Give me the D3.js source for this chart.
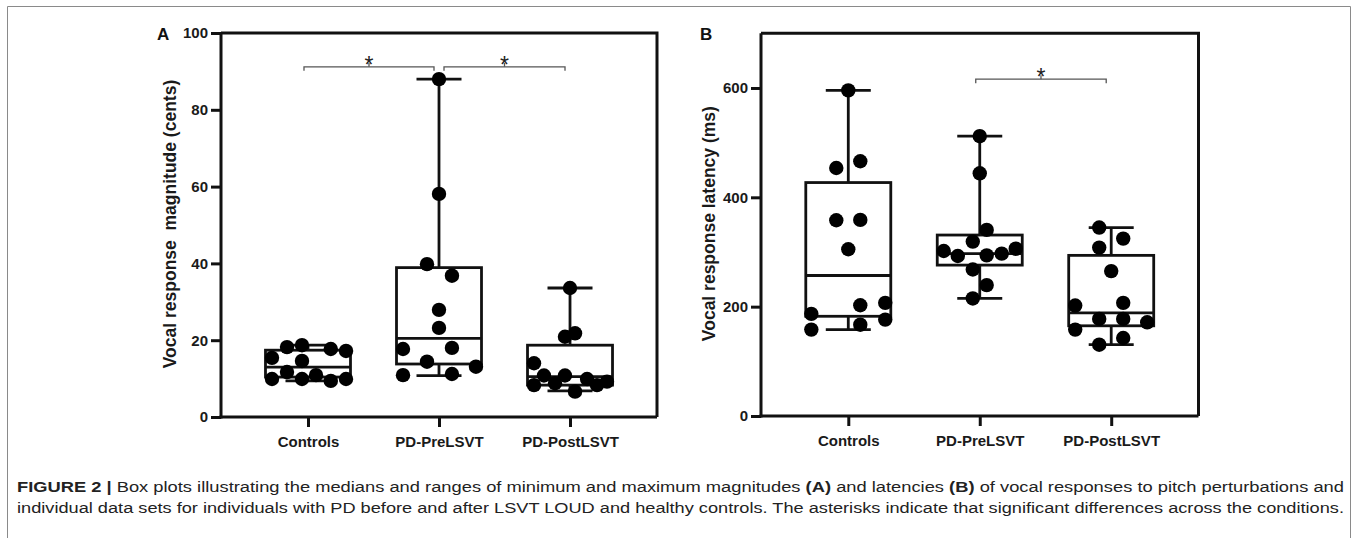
<!DOCTYPE html>
<html><head><meta charset="utf-8">
<script src="https://cdn.jsdelivr.net/npm/d3@7/dist/d3.min.js"></script>
<style>
body{margin:0;background:#fff}
svg{display:block}
text{font-family:"Liberation Sans",Arial,Helvetica,sans-serif}
</style>
</head><body>
<svg id="c" width="1358" height="538"></svg>
<script>
// ---------------- DATA ----------------
const categories = ["Controls", "PD-PreLSVT", "PD-PostLSVT"];

// Panel A: vocal response magnitude (cents)
const magTicks = [0, 20, 40, 60, 80, 100];
const magControls = [15.4, 9.9, 18.2, 11.7, 18.7, 14.6, 9.9, 10.9, 17.7, 9.4, 17.2, 9.9];
const magPre      = [88.0, 58.1, 39.8, 36.8, 27.9, 23.2, 17.7, 18.0, 14.4, 13.1, 10.9, 11.2];
const magPost     = [33.6, 21.8, 20.9, 14.0, 8.3, 10.8, 8.8, 10.8, 6.6, 9.9, 8.3, 9.2];
// horizontal scatter slot of each dot (in dot-column units)
const magControlsSlot = [-3, -3, -1.75, -1.75, -0.5, -0.5, -0.5, 0.67, 1.9, 1.9, 3.17, 3.17];
const magPreSlot      = [0, 0, -1, 1.08, 0, 0, -3, 1.08, -1, 3.08, -3, 1.08];
const magPostSlot     = [0, 0.42, -0.42, -3, -3, -2.17, -1.25, -0.42, 0.42, 1.42, 2.25, 3.08];
// box statistics (min, q1, median, q3, max) per category
const magMin    = [9.4, 10.8, 6.8];
const magQ1     = [10.4, 13.8, 8.3];
const magMedian = [13.0, 20.5, 10.5];
const magQ3     = [17.4, 38.9, 18.7];
const magMax    = [18.7, 88.0, 33.6];
// significance brackets: [from category, to category, level]
const magSig = [[0, 1, 91.2], [1, 2, 91.2]];

// Panel B: vocal response latency (ms)
const latTicks = [0, 200, 400, 600];
const latControls = [595.6, 453.6, 466, 358, 358.7, 305, 186.8, 158, 202.6, 167, 207, 176.3];
const latPre      = [511.8, 443.9, 340.4, 319, 301.8, 292.6, 293.8, 297, 306, 268, 239.4, 215];
const latPost     = [344.7, 324.5, 308, 265, 202, 207, 177.6, 177.6, 171.4, 158, 142.7, 130.4];
const latControlsSlot = [0, -1, 1, -1, 1, 0, -3.08, -3.08, 1, 1, 3.08, 3.08];
const latPreSlot      = [0, 0, 0.58, -0.58, -3, -1.83, 0.58, 1.83, 3, -0.58, 0.58, -0.58];
const latPostSlot     = [-1, 1, -1, 0, -3, 1, -1, 1, 3, -3, 1, -1];
const latMin    = [158, 215, 130.4];
const latQ1     = [182.4, 276, 165];
const latMedian = [257, 297, 188.6];
const latQ3     = [427, 331, 293.8];
const latMax    = [595.6, 511.8, 344.7];
const latSig = [[1, 2, 616]];

const captionLine1 = [
  {t: "FIGURE 2 | ", b: true},
  {t: "Box plots illustrating the medians and ranges of minimum and maximum magnitudes ", b: false},
  {t: "(A)", b: true},
  {t: " and latencies ", b: false},
  {t: "(B)", b: true},
  {t: " of vocal responses to pitch perturbations and", b: false}
];
const captionLine2 = [
  {t: "individual data sets for individuals with PD before and after LSVT LOUD and healthy controls. The asterisks indicate that significant differences across the conditions.", b: false}
];

// ---------------- DRAWING ----------------
const svg = d3.select("#c");
const INK = "#111";
const FONT = '"Liberation Sans",Arial,Helvetica,sans-serif';

// outer figure frame
svg.append("path")
  .attr("d", "M7.5,545 V6.5 H1350.5 V545")
  .attr("fill", "none").attr("stroke", "#8a8a8a").attr("stroke-width", 1);

function drawPanel(cfg) {
  const g = svg.append("g");
  const x = d3.scalePoint().domain(categories).range([cfg.left, cfg.right]).padding(0.664);
  const y = d3.scaleLinear().domain(cfg.domain).range([cfg.bottom, cfg.top]);

  // frame top & right
  g.append("path")
    .attr("d", `M${cfg.left},${cfg.top} H${cfg.right} V${cfg.bottom}`)
    .attr("fill", "none").attr("stroke", INK).attr("stroke-width", 3);

  // y axis
  const ya = g.append("g").attr("transform", `translate(${cfg.left},0)`)
    .call(d3.axisLeft(y).tickValues(cfg.ticks).tickSize(10).tickSizeOuter(0).tickPadding(3));
  // x axis
  const xa = g.append("g").attr("transform", `translate(0,${cfg.bottom})`)
    .call(d3.axisBottom(x).tickSize(10).tickSizeOuter(0).tickPadding(6));
  [ya, xa].forEach(a => {
    a.select(".domain").attr("stroke", INK).attr("stroke-width", 3);
    a.selectAll(".tick line").attr("stroke", INK).attr("stroke-width", 3);
    a.selectAll(".tick text").attr("fill", "#1a1a1a").attr("font-size", 15)
      .attr("font-weight", "bold").style("font-family", FONT);
  });
  ya.select(".domain").attr("d", `M0,${cfg.bottom + 1.5}V${cfg.top}`);
  xa.select(".domain").attr("d", `M${cfg.left - 1.5},0H${cfg.right}`);
  xa.selectAll(".tick text").attr("dy", "0.9em");

  // boxes
  const boxHalf = 42.5, capHalf = 22.5;
  categories.forEach((c, i) => {
    const cx = x(c);
    const bg = g.append("g").attr("stroke", INK).attr("stroke-width", 2.8).attr("fill", "none");
    bg.append("line").attr("x1", cx).attr("x2", cx).attr("y1", y(cfg.min[i])).attr("y2", y(cfg.q1[i]));
    bg.append("line").attr("x1", cx).attr("x2", cx).attr("y1", y(cfg.q3[i])).attr("y2", y(cfg.max[i]));
    bg.append("line").attr("x1", cx - capHalf).attr("x2", cx + capHalf).attr("y1", y(cfg.min[i])).attr("y2", y(cfg.min[i]));
    bg.append("line").attr("x1", cx - capHalf).attr("x2", cx + capHalf).attr("y1", y(cfg.max[i])).attr("y2", y(cfg.max[i]));
    bg.append("rect").attr("x", cx - boxHalf).attr("width", 2 * boxHalf)
      .attr("y", y(cfg.q3[i])).attr("height", y(cfg.q1[i]) - y(cfg.q3[i]));
    bg.append("line").attr("x1", cx - boxHalf).attr("x2", cx + boxHalf).attr("y1", y(cfg.median[i])).attr("y2", y(cfg.median[i]));
  });

  // dots
  const slotUnit = 12;
  cfg.groups.forEach((grp, i) => {
    const cx = x(categories[i]);
    g.append("g").selectAll("circle").data(grp.values).join("circle")
      .attr("cx", (d, j) => cx + grp.slots[j] * slotUnit)
      .attr("cy", d => y(d))
      .attr("r", 7.2)
      .attr("fill", "#000");
  });

  // significance brackets
  cfg.sig.forEach(([a, b, lvl]) => {
    const shared = cfg.sig.some(s => s[1] === a);
    const x1 = x(categories[a]) + (shared ? 5 : -4);
    const x2 = x(categories[b]) - 5;
    const yy = y(lvl);
    g.append("path")
      .attr("d", `M${x1},${yy + 4} V${yy} H${x2} V${yy + 4}`)
      .attr("fill", "none").attr("stroke", "#555").attr("stroke-width", 1.3);
    const mx = (x1 + x2) / 2;
    g.append("line").attr("x1", mx).attr("x2", mx).attr("y1", yy).attr("y2", yy - 4)
      .attr("stroke", "#555").attr("stroke-width", 1.3);
    g.append("text").attr("x", mx).attr("y", yy + 6).attr("text-anchor", "middle")
      .attr("font-size", 23).attr("fill", "#222").text("*");
  });

  // y label
  g.append("text")
    .attr("transform", `translate(${cfg.labelX},${(cfg.top + cfg.bottom) / 2 - 1}) rotate(-90)`)
    .attr("text-anchor", "middle").attr("dy", "0.35em")
    .attr("font-size", 17.5).attr("font-weight", "bold").attr("fill", "#1a1a1a")
    .style("white-space", "pre")
    .text(cfg.ylabel);

  // panel letter
  g.append("text").attr("x", cfg.letterX).attr("y", 40)
    .attr("font-size", 17).attr("font-weight", "bold").attr("fill", "#111")
    .text(cfg.letter);
}

drawPanel({
  left: 221, right: 657, top: 33, bottom: 417,
  domain: [0, 100], ticks: magTicks,
  groups: [
    {values: magControls, slots: magControlsSlot},
    {values: magPre, slots: magPreSlot},
    {values: magPost, slots: magPostSlot}
  ],
  min: magMin, q1: magQ1, median: magMedian, q3: magQ3, max: magMax,
  sig: magSig,
  ylabel: "Vocal response  magnitude (cents)", labelX: 170,
  letter: "A", letterX: 157
});

drawPanel({
  left: 761, right: 1198.5, top: 33.3, bottom: 416,
  domain: [0, 700], ticks: latTicks,
  groups: [
    {values: latControls, slots: latControlsSlot},
    {values: latPre, slots: latPreSlot},
    {values: latPost, slots: latPostSlot}
  ],
  min: latMin, q1: latQ1, median: latMedian, q3: latQ3, max: latMax,
  sig: latSig,
  ylabel: "Vocal response latency (ms)", labelX: 709,
  letter: "B", letterX: 700
});

// caption
function captionLine(parts, yPos) {
  const t = svg.append("text").attr("x", 17).attr("y", yPos)
    .attr("font-size", 15.5).attr("fill", "#222")
    .attr("textLength", 1327).attr("lengthAdjust", "spacingAndGlyphs")
    .style("white-space", "pre");
  parts.forEach(p => {
    t.append("tspan").attr("font-weight", p.b ? "bold" : "normal").text(p.t);
  });
}
captionLine(captionLine1, 492);
captionLine(captionLine2, 513);
</script>
</body></html>
